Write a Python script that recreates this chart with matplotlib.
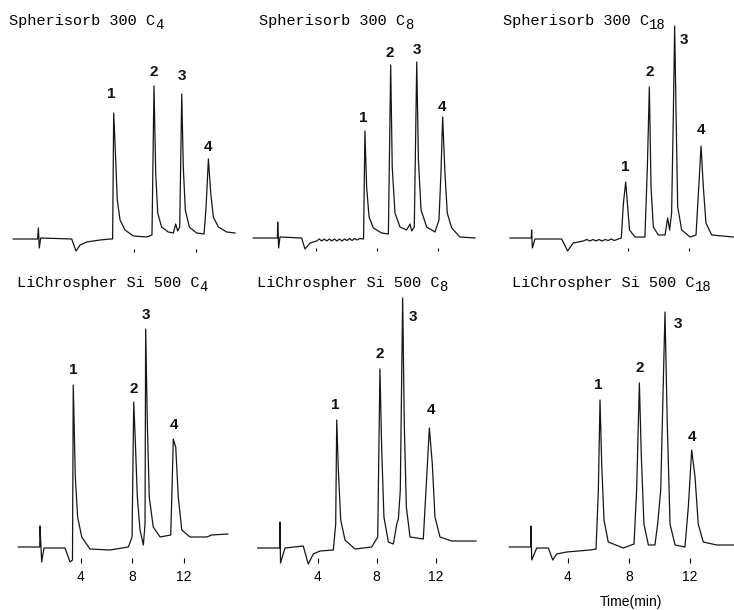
import matplotlib.pyplot as plt
from matplotlib import font_manager

# chromatograms: time (min) and detector signal (a.u., baseline = 0)
tl_t = [0.21, 1.78, 1.83, 1.89, 1.98, 3.98, 4.26, 4.52, 4.95, 5.38, 5.81, 6.45, 6.62, 6.69, 6.82,
        6.92, 7.10, 7.42, 7.96, 8.82, 9.16, 9.29, 9.40, 9.53, 9.78, 10.21, 10.54, 10.69, 10.82, 10.95,
        11.08, 11.18, 11.31, 11.57, 12.04, 12.52, 12.65, 12.80, 12.95, 13.12, 13.44, 13.98, 14.52]
tl_h = [0, 0, 11, -9, 1, 0, -12, -6, -3, -2, -1, 0, 0, 126, 79,
        39, 19, 9, 3, 2, 4, 153, 66, 26, 12, 7, 6, 15, 8, 12,
        145, 72, 29, 12, 6, 5, 32, 80, 46, 22, 12, 7, 6]

tm_t = [-0.07, 1.50, 1.52, 1.58, 1.67, 3.08, 3.30, 3.63, 4.06, 4.23, 4.39, 4.56, 4.72, 4.89, 5.05,
        5.22, 5.38, 5.55, 5.71, 5.88, 6.04, 6.21, 6.37, 6.54, 6.70, 6.87, 7.12, 7.21, 7.32, 7.48,
        7.76, 8.30, 8.74, 8.89, 8.99, 9.17, 9.50, 9.93, 10.15, 10.26, 10.43, 10.59, 10.70, 10.87, 11.24,
        11.78, 12.04, 12.17, 12.28, 12.43, 12.58, 12.87, 13.41, 14.39]
tm_h = [0, 0, 16, -10, 1, 0, -11, -5, -3, -1, -3, -1, -3, -1, -3,
        -1, -3, -1, -3, -1, -2.5, -0.5, -2.5, -0.5, -2, -0.5, -1, 107, 51, 21,
        10, 5, 4, 173, 71, 25, 11, 8, 14, 7, 11, 176, 78, 28, 11,
        6, 18, 65, 121, 65, 25, 10, 1, 0]

tr_t = [0.26, 1.66, 1.68, 1.73, 1.90, 3.65, 4.04, 4.41, 5.07, 5.3, 5.5, 5.7, 5.9, 6.1, 6.3,
        6.5, 6.7, 6.9, 7.1, 7.36, 7.56, 7.70, 7.85, 7.98, 8.10, 8.46, 9.11, 9.27, 9.40, 9.51,
        9.66, 9.99, 10.43, 10.60, 10.73, 10.86, 10.97, 11.06, 11.15, 11.26, 11.52, 12.07, 12.46, 12.64, 12.79,
        12.94, 13.11, 13.49, 14.90]
tr_h = [0, 0, 8, -10, -1, -1, -13, -5, -3, -1.5, -3, -1.5, -3, -1.5, -3,
        -1.5, -2.5, -1, -2.5, -1, 0, 35, 56, 31, 8, 1, 1, 71, 151, 51,
        11, 3, 3, 20, 8, 25, 121, 212, 125, 31, 8, 1, 3, 51, 92,
        51, 15, 3, 1]

bl_t = [-0.88, 0.79, 0.81, 0.94, 1.12, 2.76, 3.15, 3.34, 3.40, 3.56, 3.74, 4.06, 4.70, 6.26, 7.69,
        7.98, 8.11, 8.23, 8.39, 8.60, 8.86, 8.99, 9.04, 9.17, 9.32, 9.63, 10.16, 10.99, 11.09, 11.19,
        11.38, 11.58, 11.85, 12.49, 13.79, 14.18, 15.43]
bl_h = [0, 0, 21, -15, -1, -1, -15, -13, 162, 70, 30, 10, -2, -3, 0,
        10, 145, 107, 50, 17, 2, 23, 218, 123, 50, 20, 10, 12, 57, 108,
        100, 50, 17, 10, 10, 12, 13]

bm_t = [-0.07, 1.42, 1.44, 1.48, 1.78, 3.02, 3.36, 3.70, 4.16, 5.06, 5.22, 5.29, 5.40, 5.56, 5.85,
        6.53, 7.66, 8.07, 8.22, 8.34, 8.49, 8.79, 9.13, 9.36, 9.47, 9.60, 9.76, 9.87, 10.01, 10.26,
        11.16, 11.39, 11.57, 11.77, 11.95, 12.29, 13.08, 14.73]
bm_h = [-1, -1, 25, -16, -1, 1, -17, -7, -4, -3, 23, 127, 77, 27, 7,
        -2, 0, 10, 178, 97, 30, 5, 3, 23, 28, 57, 249, 123, 40, 10,
        8, 70, 119, 83, 30, 10, 6, 6]

br_t = [0.15, 1.55, 1.57, 1.62, 1.95, 2.71, 3.00, 3.26, 3.91, 5.44, 5.84, 5.99, 6.10, 6.21, 6.36,
        6.64, 7.63, 8.33, 8.50, 8.68, 8.81, 8.98, 9.27, 9.70, 9.88, 10.08, 10.36, 10.51, 10.69, 11.02,
        11.67, 11.89, 12.11, 12.33, 12.54, 12.87, 13.75, 14.89]
br_h = [0, 0, 21, -13, -1, -1, -13, -7, -5, -3, -2, 57, 147, 83, 27,
        5, -1, 3, 57, 164, 90, 23, 2, 2, 23, 57, 235, 123, 23, 2,
        0, 40, 97, 70, 23, 5, 2, 2]

# peak number labels (time, signal)
peak_names = ['1', '2', '3', '4']
tl_lab = [(6.52, 145), (9.25, 167), (11.08, 163), (12.75, 92)]
tm_lab = [(7.10, 120), (8.85, 185), (10.59, 188), (12.22, 131)]
tr_lab = [(7.80, 71), (9.40, 166), (11.67, 198), (12.79, 108)]
bl_lab = [(3.40, 177), (8.15, 158), (9.04, 232), (11.25, 122)]
bm_lab = [(5.22, 142), (8.22, 193), (10.48, 230), (11.66, 137)]
br_lab = [(5.99, 162), (8.72, 179), (11.23, 223), (12.15, 110)]

titles = ['Spherisorb 300 C', 'Spherisorb 300 C', 'Spherisorb 300 C',
          'LiChrospher Si 500 C', 'LiChrospher Si 500 C', 'LiChrospher Si 500 C']
chains = ['4', '8', '18', '4', '8', '18']
tick_sets = [[8, 12], [4, 8, 12], [8, 12], [4, 8, 12], [4, 8, 12], [4, 8, 12]]

traces = [(tl_t, tl_h), (tm_t, tm_h), (tr_t, tr_h), (bl_t, bl_h), (bm_t, bm_h), (br_t, br_h)]
labels = [tl_lab, tm_lab, tr_lab, bl_lab, bm_lab, br_lab]

# layout in pixels: x of t=0, px per min, baseline y, title x, title y
W, H = 734, 610
layout = [(10, 15.5, 239, 9, 25), (254.4, 15.33, 238, 259, 25), (506, 15.25, 238, 503, 25),
          (29.6, 12.84, 547, 17, 287), (258.7, 14.75, 547, 257, 287), (507, 15.25, 547, 512, 287)]

names = {f.name for f in font_manager.fontManager.ttflist}
num_font = 'Liberation Sans Narrow' if 'Liberation Sans Narrow' in names else 'Liberation Sans'

fig = plt.figure(figsize=(W / 100, H / 100), dpi=100)
renderer = fig.canvas.get_renderer()
xlo, xhi = -1.5, 16

for i in range(6):
    x0, ppm, yb, tx, ty = layout[i]
    ylo, yhi = (-30, 230) if i < 3 else (-30, 260)
    ax = fig.add_axes([(x0 + xlo * ppm) / W, (H - yb + ylo) / H,
                       (xhi - xlo) * ppm / W, (yhi - ylo) / H])
    ax.patch.set_visible(False)
    t, h = traces[i]
    ax.plot(t, h, color='#161616', lw=0.9, clip_on=False)
    for name, (lt, lh) in zip(peak_names, labels[i]):
        ax.text(lt, lh, name, ha='center', va='center', fontsize=11,
                fontweight='bold', family=num_font, color='#111111')
    ax.set_xlim(xlo, xhi)
    ax.set_ylim(ylo, yhi)
    for s in ['left', 'right', 'top']:
        ax.spines[s].set_visible(False)
    ax.spines['bottom'].set_position(('data', -10 if i < 3 else -11))
    ax.spines['bottom'].set_visible(False)
    ax.set_yticks([])
    ax.set_xticks(tick_sets[i])
    if i < 3:
        ax.tick_params(axis='x', length=2, width=0.8, labelbottom=False)
    else:
        ax.tick_params(axis='x', length=3.5, width=0.8, pad=5, labelsize=10)
        for lab in ax.get_xticklabels():
            lab.set_family('Liberation Sans')

    txt = fig.text(tx / W, 1 - ty / H, titles[i], family='Liberation Mono',
                   fontsize=11, va='baseline', ha='left')
    bb = txt.get_window_extent(renderer)
    fig.text(bb.x1 / W, 1 - (ty + 4) / H, chains[i], family='Liberation Mono',
             fontsize=10, va='baseline', ha='left')

fig.text(631 / W, 1 - 602 / H, 'Time(min)', family='Liberation Sans',
         fontsize=10, ha='center', va='center')

fig.savefig('out.png', dpi=100)
